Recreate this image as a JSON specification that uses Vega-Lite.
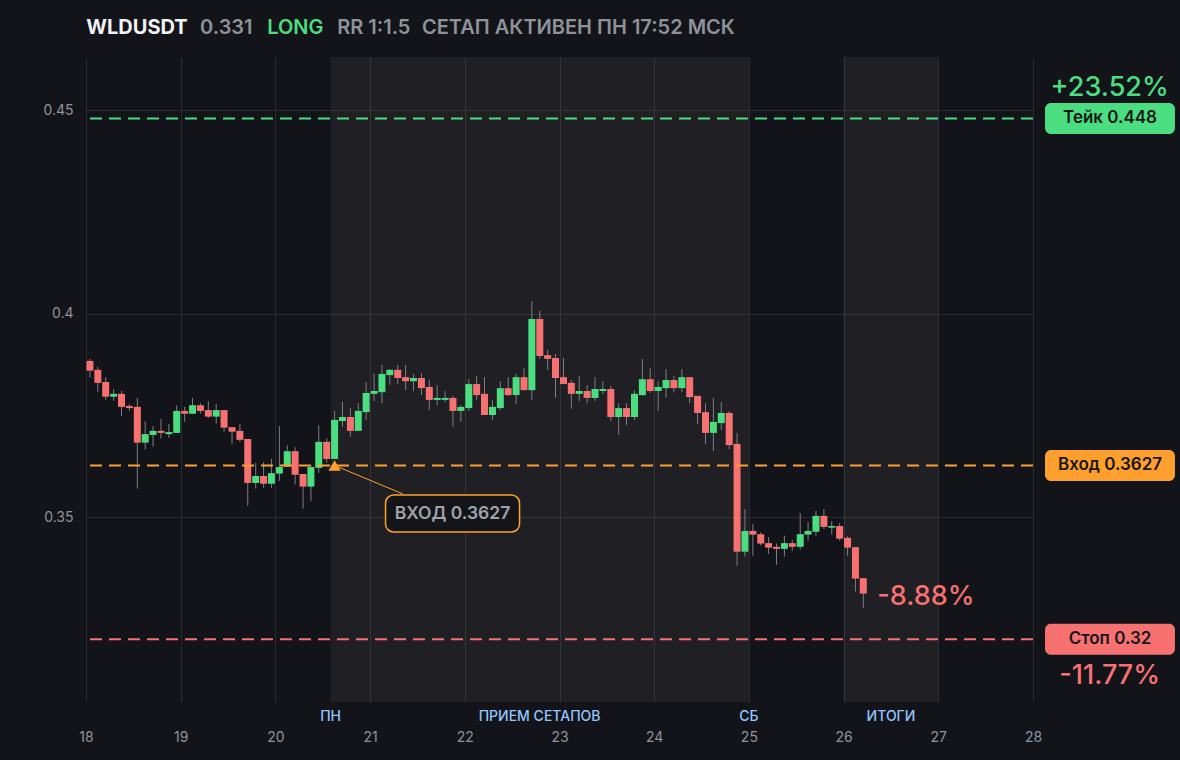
{
  "$schema": "https://vega.github.io/schema/vega-lite/v6.json",
  "width": 947,
  "height": 645,
  "autosize": {"type": "none"},
  "padding": {"left": 86, "top": 57, "right": 147, "bottom": 58},
  "background": "#131419",
  "config": {"font": "Inter", "view": {"stroke": null}},
  "datasets": {
    "sessions": [
      {"s": 20.583, "e": 25},
      {"s": 26, "e": 27}
    ],
    "sessionLabels": [
      {"t": 20.583, "txt": "ПН"},
      {"t": 22.79, "txt": "ПРИЕМ СЕТАПОВ"},
      {"t": 25, "txt": "СБ"},
      {"t": 26.5, "txt": "ИТОГИ"}
    ],
    "levels": [
      {"kind": "Тейк", "p": 0.448, "label": "Тейк 0.448", "pct": "+23.52%"},
      {"kind": "Вход", "p": 0.3627, "label": "Вход 0.3627", "pct": ""},
      {"kind": "Стоп", "p": 0.32, "label": "Стоп 0.32", "pct": "-11.77%"}
    ],
    "entry": [{"t": 20.625, "p": 0.3627, "txt": "ВХОД 0.3627"}],
    "last": [{"t": 26.208, "p": 0.3312, "txt": "-8.88%"}],
    "candles": [
      {"t": 18.042, "o": 0.3884, "h": 0.3889, "l": 0.3843, "c": 0.3860},
      {"t": 18.125, "o": 0.3862, "h": 0.3869, "l": 0.3808, "c": 0.3830},
      {"t": 18.208, "o": 0.3832, "h": 0.3844, "l": 0.3788, "c": 0.3796},
      {"t": 18.292, "o": 0.3796, "h": 0.3815, "l": 0.3786, "c": 0.3803},
      {"t": 18.375, "o": 0.3803, "h": 0.3810, "l": 0.3749, "c": 0.3771},
      {"t": 18.458, "o": 0.3773, "h": 0.3778, "l": 0.3761, "c": 0.3768},
      {"t": 18.542, "o": 0.3771, "h": 0.3793, "l": 0.3570, "c": 0.3683},
      {"t": 18.625, "o": 0.3683, "h": 0.3736, "l": 0.3666, "c": 0.3704},
      {"t": 18.708, "o": 0.3702, "h": 0.3724, "l": 0.3673, "c": 0.3712},
      {"t": 18.792, "o": 0.3712, "h": 0.3741, "l": 0.3693, "c": 0.3707},
      {"t": 18.875, "o": 0.3704, "h": 0.3729, "l": 0.3695, "c": 0.3709},
      {"t": 18.958, "o": 0.3707, "h": 0.3775, "l": 0.3707, "c": 0.3761},
      {"t": 19.042, "o": 0.3761, "h": 0.3771, "l": 0.3734, "c": 0.3754},
      {"t": 19.125, "o": 0.3754, "h": 0.3793, "l": 0.3754, "c": 0.3775},
      {"t": 19.208, "o": 0.3775, "h": 0.3780, "l": 0.3754, "c": 0.3761},
      {"t": 19.292, "o": 0.3763, "h": 0.3785, "l": 0.3744, "c": 0.3747},
      {"t": 19.375, "o": 0.3747, "h": 0.3778, "l": 0.3730, "c": 0.3763},
      {"t": 19.458, "o": 0.3763, "h": 0.3763, "l": 0.3710, "c": 0.3720},
      {"t": 19.542, "o": 0.3721, "h": 0.3721, "l": 0.3680, "c": 0.3710},
      {"t": 19.625, "o": 0.3712, "h": 0.3729, "l": 0.3685, "c": 0.3690},
      {"t": 19.708, "o": 0.3692, "h": 0.3692, "l": 0.3528, "c": 0.3584},
      {"t": 19.792, "o": 0.3584, "h": 0.3633, "l": 0.3570, "c": 0.3601},
      {"t": 19.875, "o": 0.3601, "h": 0.3635, "l": 0.3572, "c": 0.3582},
      {"t": 19.958, "o": 0.3582, "h": 0.3643, "l": 0.3572, "c": 0.3608},
      {"t": 20.042, "o": 0.3607, "h": 0.3724, "l": 0.3589, "c": 0.3623},
      {"t": 20.125, "o": 0.3624, "h": 0.3677, "l": 0.3624, "c": 0.3662},
      {"t": 20.208, "o": 0.3662, "h": 0.3672, "l": 0.3580, "c": 0.3604},
      {"t": 20.292, "o": 0.3606, "h": 0.3606, "l": 0.3521, "c": 0.3575},
      {"t": 20.375, "o": 0.3575, "h": 0.3628, "l": 0.3540, "c": 0.3623},
      {"t": 20.458, "o": 0.3621, "h": 0.3726, "l": 0.3609, "c": 0.3685},
      {"t": 20.542, "o": 0.3685, "h": 0.3694, "l": 0.3634, "c": 0.3643},
      {"t": 20.625, "o": 0.3643, "h": 0.3761, "l": 0.3643, "c": 0.3739},
      {"t": 20.708, "o": 0.3736, "h": 0.3783, "l": 0.3722, "c": 0.3746},
      {"t": 20.792, "o": 0.3746, "h": 0.3768, "l": 0.3698, "c": 0.3712},
      {"t": 20.875, "o": 0.3712, "h": 0.3780, "l": 0.3712, "c": 0.3761},
      {"t": 20.958, "o": 0.3758, "h": 0.3832, "l": 0.3739, "c": 0.3805},
      {"t": 21.042, "o": 0.3803, "h": 0.3852, "l": 0.3785, "c": 0.3810},
      {"t": 21.125, "o": 0.3807, "h": 0.3874, "l": 0.3780, "c": 0.3852},
      {"t": 21.208, "o": 0.3849, "h": 0.3864, "l": 0.3825, "c": 0.3862},
      {"t": 21.292, "o": 0.3862, "h": 0.3874, "l": 0.3827, "c": 0.3842},
      {"t": 21.375, "o": 0.3844, "h": 0.3874, "l": 0.3812, "c": 0.3834},
      {"t": 21.458, "o": 0.3834, "h": 0.3852, "l": 0.3810, "c": 0.3842},
      {"t": 21.542, "o": 0.3842, "h": 0.3854, "l": 0.3800, "c": 0.3817},
      {"t": 21.625, "o": 0.3820, "h": 0.3837, "l": 0.3763, "c": 0.3788},
      {"t": 21.708, "o": 0.3788, "h": 0.3825, "l": 0.3775, "c": 0.3793},
      {"t": 21.792, "o": 0.3788, "h": 0.3810, "l": 0.3783, "c": 0.3793},
      {"t": 21.875, "o": 0.3793, "h": 0.3798, "l": 0.3722, "c": 0.3761},
      {"t": 21.958, "o": 0.3761, "h": 0.3775, "l": 0.3734, "c": 0.3771},
      {"t": 22.042, "o": 0.3768, "h": 0.3839, "l": 0.3761, "c": 0.3827},
      {"t": 22.125, "o": 0.3827, "h": 0.3847, "l": 0.3788, "c": 0.3800},
      {"t": 22.208, "o": 0.3803, "h": 0.3844, "l": 0.3751, "c": 0.3751},
      {"t": 22.292, "o": 0.3751, "h": 0.3788, "l": 0.3739, "c": 0.3771},
      {"t": 22.375, "o": 0.3768, "h": 0.3834, "l": 0.3763, "c": 0.3817},
      {"t": 22.458, "o": 0.3817, "h": 0.3844, "l": 0.3798, "c": 0.3800},
      {"t": 22.542, "o": 0.3800, "h": 0.3852, "l": 0.3778, "c": 0.3844},
      {"t": 22.625, "o": 0.3844, "h": 0.3866, "l": 0.3812, "c": 0.3812},
      {"t": 22.708, "o": 0.3812, "h": 0.4031, "l": 0.3788, "c": 0.3987},
      {"t": 22.792, "o": 0.3987, "h": 0.4007, "l": 0.3889, "c": 0.3896},
      {"t": 22.875, "o": 0.3898, "h": 0.3911, "l": 0.3862, "c": 0.3889},
      {"t": 22.958, "o": 0.3891, "h": 0.3901, "l": 0.3793, "c": 0.3842},
      {"t": 23.042, "o": 0.3844, "h": 0.3891, "l": 0.3827, "c": 0.3827},
      {"t": 23.125, "o": 0.3830, "h": 0.3837, "l": 0.3766, "c": 0.3803},
      {"t": 23.208, "o": 0.3803, "h": 0.3847, "l": 0.3785, "c": 0.3810},
      {"t": 23.292, "o": 0.3810, "h": 0.3825, "l": 0.3780, "c": 0.3793},
      {"t": 23.375, "o": 0.3793, "h": 0.3844, "l": 0.3785, "c": 0.3815},
      {"t": 23.458, "o": 0.3810, "h": 0.3834, "l": 0.3803, "c": 0.3815},
      {"t": 23.542, "o": 0.3815, "h": 0.3822, "l": 0.3736, "c": 0.3746},
      {"t": 23.625, "o": 0.3746, "h": 0.3780, "l": 0.3702, "c": 0.3768},
      {"t": 23.708, "o": 0.3768, "h": 0.3780, "l": 0.3726, "c": 0.3746},
      {"t": 23.792, "o": 0.3746, "h": 0.3812, "l": 0.3739, "c": 0.3803},
      {"t": 23.875, "o": 0.3800, "h": 0.3889, "l": 0.3798, "c": 0.3839},
      {"t": 23.958, "o": 0.3839, "h": 0.3866, "l": 0.3805, "c": 0.3810},
      {"t": 24.042, "o": 0.3810, "h": 0.3834, "l": 0.3761, "c": 0.3820},
      {"t": 24.125, "o": 0.3817, "h": 0.3864, "l": 0.3793, "c": 0.3837},
      {"t": 24.208, "o": 0.3837, "h": 0.3847, "l": 0.3807, "c": 0.3817},
      {"t": 24.292, "o": 0.3817, "h": 0.3864, "l": 0.3807, "c": 0.3844},
      {"t": 24.375, "o": 0.3844, "h": 0.3844, "l": 0.3780, "c": 0.3795},
      {"t": 24.458, "o": 0.3798, "h": 0.3798, "l": 0.3729, "c": 0.3756},
      {"t": 24.542, "o": 0.3758, "h": 0.3780, "l": 0.3680, "c": 0.3707},
      {"t": 24.625, "o": 0.3707, "h": 0.3793, "l": 0.3662, "c": 0.3734},
      {"t": 24.708, "o": 0.3731, "h": 0.3783, "l": 0.3714, "c": 0.3756},
      {"t": 24.792, "o": 0.3756, "h": 0.3761, "l": 0.3667, "c": 0.3677},
      {"t": 24.875, "o": 0.3680, "h": 0.3707, "l": 0.3380, "c": 0.3415},
      {"t": 24.958, "o": 0.3415, "h": 0.3520, "l": 0.3403, "c": 0.3466},
      {"t": 25.042, "o": 0.3466, "h": 0.3483, "l": 0.3405, "c": 0.3457},
      {"t": 25.125, "o": 0.3458, "h": 0.3463, "l": 0.3430, "c": 0.3435},
      {"t": 25.208, "o": 0.3436, "h": 0.3451, "l": 0.3410, "c": 0.3425},
      {"t": 25.292, "o": 0.3427, "h": 0.3435, "l": 0.3383, "c": 0.3422},
      {"t": 25.375, "o": 0.3422, "h": 0.3454, "l": 0.3403, "c": 0.3436},
      {"t": 25.458, "o": 0.3436, "h": 0.3444, "l": 0.3417, "c": 0.3427},
      {"t": 25.542, "o": 0.3427, "h": 0.3510, "l": 0.3420, "c": 0.3458},
      {"t": 25.625, "o": 0.3457, "h": 0.3488, "l": 0.3442, "c": 0.3466},
      {"t": 25.708, "o": 0.3464, "h": 0.3515, "l": 0.3454, "c": 0.3503},
      {"t": 25.792, "o": 0.3503, "h": 0.3520, "l": 0.3471, "c": 0.3476},
      {"t": 25.875, "o": 0.3474, "h": 0.3490, "l": 0.3457, "c": 0.3478},
      {"t": 25.958, "o": 0.3478, "h": 0.3485, "l": 0.3442, "c": 0.3447},
      {"t": 26.042, "o": 0.3449, "h": 0.3453, "l": 0.3405, "c": 0.3425},
      {"t": 26.125, "o": 0.3426, "h": 0.3426, "l": 0.3317, "c": 0.3349},
      {"t": 26.208, "o": 0.3350, "h": 0.3350, "l": 0.3277, "c": 0.3312}
    ]
  },
  "layer": [
    {
      "data": {"name": "sessions"},
      "mark": {"type": "rect", "fill": "#ffffff", "opacity": 0.05},
      "encoding": {
        "x": {
          "field": "s", "type": "quantitative", "title": null,
          "scale": {"domain": [18, 28], "nice": false, "zero": false, "padding": 0},
          "axis": {
            "values": [18, 19, 20, 21, 22, 23, 24, 25, 26, 27, 28],
            "format": "d", "title": null, "grid": true, "gridColor": "#2a2b31",
            "domain": false, "ticks": false, "labelColor": "#8f939b",
            "labelFontSize": 14, "labelPadding": 28, "labelFlush": false
          }
        },
        "x2": {"field": "e"}
      }
    },
    {
      "data": {"name": "candles"},
      "mark": {"type": "rule", "color": "#7c7f87", "strokeWidth": 1},
      "encoding": {
        "x": {"field": "t", "type": "quantitative", "title": null},
        "y": {
          "field": "l", "type": "quantitative", "title": null,
          "scale": {"domain": [0.30455, 0.4631], "nice": false, "zero": false, "padding": 0},
          "axis": {
            "values": [0.35, 0.4, 0.45], "format": "~g", "title": null,
            "grid": true, "gridColor": "#2a2b31", "domain": false, "ticks": false,
            "labelColor": "#8f939b", "labelFontSize": 14, "labelPadding": 13
          }
        },
        "y2": {"field": "h"}
      }
    },
    {
      "data": {"name": "candles"},
      "mark": {"type": "bar", "size": 7},
      "encoding": {
        "x": {"field": "t", "type": "quantitative", "title": null},
        "y": {"field": "o", "type": "quantitative", "title": null},
        "y2": {"field": "c"},
        "color": {
          "condition": {"test": "datum.c >= datum.o", "value": "#4ade80"},
          "value": "#f87171"
        }
      }
    },
    {
      "data": {"name": "levels"},
      "mark": {"type": "rule", "strokeDash": [12, 7], "strokeWidth": 2},
      "encoding": {
        "y": {"field": "p", "type": "quantitative", "title": null},
        "color": {
          "field": "kind", "type": "nominal", "legend": null,
          "scale": {"domain": ["Тейк", "Вход", "Стоп"], "range": ["#4ade80", "#ffa02e", "#f87171"]}
        }
      }
    },
    {
      "data": {"name": "entry"},
      "mark": {"type": "rule", "color": "#ffa02e", "strokeWidth": 1},
      "encoding": {
        "x": {"field": "t", "type": "quantitative", "title": null},
        "y": {"field": "p", "type": "quantitative", "title": null},
        "x2": {"datum": 21.345},
        "y2": {"datum": 0.3557}
      }
    },
    {
      "data": {"name": "entry"},
      "mark": {"type": "point", "shape": "triangle-up", "filled": true, "size": 150, "color": "#ffa02e", "opacity": 1},
      "encoding": {
        "x": {"field": "t", "type": "quantitative", "title": null},
        "y": {"field": "p", "type": "quantitative", "title": null}
      }
    },
    {
      "data": {"name": "entry"},
      "mark": {"type": "rect", "cornerRadius": 8, "fill": "#141519", "stroke": "#ffa02e", "strokeWidth": 1.5},
      "encoding": {
        "x": {"datum": 21.163, "title": null},
        "x2": {"datum": 22.578},
        "y": {"datum": 0.35543, "title": null},
        "y2": {"datum": 0.34634}
      }
    },
    {
      "data": {"name": "entry"},
      "mark": {"type": "text", "fontSize": 17.5, "fontWeight": 600, "color": "#a0a3aa", "align": "center", "baseline": "middle"},
      "encoding": {
        "x": {"datum": 21.87, "title": null},
        "y": {"datum": 0.35088, "title": null},
        "text": {"field": "txt"}
      }
    },
    {
      "data": {"name": "levels"},
      "mark": {"type": "rect", "cornerRadius": 6, "yOffset": -15.5, "y2Offset": 15.5},
      "encoding": {
        "x": {"datum": 28.127, "title": null},
        "x2": {"datum": 29.499},
        "y": {"field": "p", "type": "quantitative", "title": null},
        "y2": {"field": "p"},
        "color": {"field": "kind", "type": "nominal", "legend": null}
      }
    },
    {
      "data": {"name": "levels"},
      "mark": {"type": "text", "fontSize": 17, "fontWeight": 600, "color": "#16171b", "align": "center", "baseline": "middle"},
      "encoding": {
        "x": {"datum": 28.813, "title": null},
        "y": {"field": "p", "type": "quantitative", "title": null},
        "text": {"field": "label"}
      }
    },
    {
      "data": {"name": "levels"},
      "transform": [{"filter": "datum.kind === 'Тейк'"}],
      "mark": {"type": "text", "fontSize": 27, "fontWeight": 500, "color": "#4ade80", "align": "center", "baseline": "middle", "dy": -30},
      "encoding": {
        "x": {"datum": 28.81, "title": null},
        "y": {"field": "p", "type": "quantitative", "title": null},
        "text": {"field": "pct"}
      }
    },
    {
      "data": {"name": "levels"},
      "transform": [{"filter": "datum.kind === 'Стоп'"}],
      "mark": {"type": "text", "fontSize": 27, "fontWeight": 500, "color": "#f87171", "align": "center", "baseline": "middle", "dy": 37},
      "encoding": {
        "x": {"datum": 28.81, "title": null},
        "y": {"field": "p", "type": "quantitative", "title": null},
        "text": {"field": "pct"}
      }
    },
    {
      "data": {"name": "last"},
      "mark": {"type": "text", "fontSize": 27, "fontWeight": 500, "color": "#f87171", "align": "left", "baseline": "middle", "dx": 14, "dy": 3},
      "encoding": {
        "x": {"field": "t", "type": "quantitative", "title": null},
        "y": {"field": "p", "type": "quantitative", "title": null},
        "text": {"field": "txt"}
      }
    },
    {
      "data": {"name": "sessionLabels"},
      "mark": {"type": "text", "fontSize": 14, "fontWeight": 500, "color": "#93c5fd", "align": "center", "baseline": "middle"},
      "encoding": {
        "x": {"field": "t", "type": "quantitative", "title": null},
        "y": {"datum": 0.30086, "title": null},
        "text": {"field": "txt"}
      }
    },
    {
      "data": {"values": [{}]},
      "mark": {"type": "text", "fontSize": 20, "fontWeight": 700, "color": "#f1f2f4", "align": "left", "baseline": "middle"},
      "encoding": {
        "x": {"datum": 18.003, "title": null},
        "y": {"datum": 0.47015, "title": null},
        "text": {"value": "WLDUSDT"}
      }
    },
    {
      "data": {"values": [{}]},
      "mark": {"type": "text", "fontSize": 20, "fontWeight": 600, "color": "#8e9299", "align": "left", "baseline": "middle"},
      "encoding": {
        "x": {"datum": 19.205, "title": null},
        "y": {"datum": 0.47015, "title": null},
        "text": {"value": "0.331"}
      }
    },
    {
      "data": {"values": [{}]},
      "mark": {"type": "text", "fontSize": 20, "fontWeight": 600, "color": "#4ade80", "align": "left", "baseline": "middle"},
      "encoding": {
        "x": {"datum": 19.913, "title": null},
        "y": {"datum": 0.47015, "title": null},
        "text": {"value": "LONG"}
      }
    },
    {
      "data": {"values": [{}]},
      "mark": {"type": "text", "fontSize": 20, "fontWeight": 600, "color": "#8e9299", "align": "left", "baseline": "middle"},
      "encoding": {
        "x": {"datum": 20.653, "title": null},
        "y": {"datum": 0.47015, "title": null},
        "text": {"value": "RR 1:1.5"}
      }
    },
    {
      "data": {"values": [{}]},
      "mark": {"type": "text", "fontSize": 20, "fontWeight": 600, "color": "#8e9299", "align": "left", "baseline": "middle"},
      "encoding": {
        "x": {"datum": 21.548, "title": null},
        "y": {"datum": 0.47015, "title": null},
        "text": {"value": "СЕТАП АКТИВЕН ПН 17:52 МСК"}
      }
    }
  ]
}
